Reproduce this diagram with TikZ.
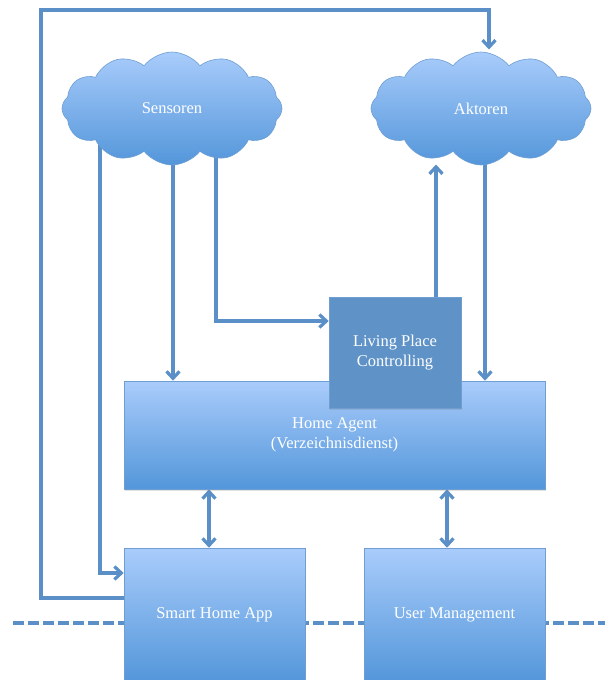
\documentclass[tikz,border=0pt]{standalone}
\usepackage{fontspec}
\setmainfont{Liberation Serif}
\usetikzlibrary{shapes.symbols,arrows.meta,shadows,backgrounds}
\definecolor{lineblue}{HTML}{5B8FC7}
\definecolor{topblue}{HTML}{A9CCFB}
\definecolor{botblue}{HTML}{5396DA}
\definecolor{darkbox}{HTML}{5F93C7}
\definecolor{edgeblue}{HTML}{6E9ED2}
\begin{document}
\begin{tikzpicture}[x=1pt,y=-1pt,
  conn/.style={draw=lineblue, line width=3.2pt},
  tip/.style={-{Straight Barb[length=7pt,width=13pt]}},
  tiptwo/.style={{Straight Barb[length=7pt,width=13pt]}-{Straight Barb[length=7pt,width=13pt]}},
  txt/.style={text=white, align=center, font=\fontsize{16.5}{19.5}\selectfont},
  shade/.style={drop shadow={opacity=0.25, shadow xshift=1pt, shadow yshift=-1.5pt}},
  box/.style={txt, shade, draw=edgeblue, line width=0.6pt, top color=topblue, bottom color=botblue, inner sep=0pt},
  darkbox/.style={txt, shade, draw=edgeblue, line width=0.6pt, fill=darkbox, inner sep=0pt},
  cloudnode/.style={txt, cloud, cloud puffs=12, cloud puff arc=105, aspect=2, draw=edgeblue, line width=0.6pt, top color=topblue, bottom color=botblue, minimum width=220pt, minimum height=113pt, inner sep=0pt},
  dashline/.style={draw=lineblue, line width=4pt, dash pattern=on 11pt off 4pt}]
\useasboundingbox (0,0) rectangle (605,680);

\node[box, minimum width=421pt, minimum height=108pt, text depth=4pt] (ha) at (334.5,435) {Home Agent\\(Verzeichnisdienst)};
\node[darkbox, minimum width=132pt, minimum height=111pt] (lpc) at (395,352.5) {Living Place\\Controlling};
\node[box, minimum width=181pt, minimum height=134pt] (sha) at (214.5,615) {Smart Home App};
\node[box, minimum width=181pt, minimum height=134pt] (um) at (454.5,615) {User Management};
\node[cloudnode] (sens) at (172,108.5) {Sensoren};
\node[cloudnode] (akt) at (481,108.5) {Aktoren};

\coordinate (dl) at (13,623);
\coordinate (dr) at (606,623);

\begin{scope}[on background layer]
\draw[dashline] (dl) -- (dr);
\draw[conn,tip] ([xshift=1pt]sens.center) -- ([xshift=1pt]sens.center |- ha.north);
\draw[conn,tip] ([xshift=-72pt]sens.center) |- ([yshift=42pt]sha.west);
\draw[conn,tip] ([xshift=44pt]sens.center) |- ([yshift=31.5pt]lpc.west);
\draw[conn,tip] ([xshift=41pt]lpc.north) -- ([xshift=-45pt,yshift=-56pt]akt.center);
\draw[conn,tip] ([xshift=4pt]akt.center) -- ([xshift=4pt]akt.center |- ha.north);
\draw[conn,tip] ([yshift=17pt]sha.west) -- (41,598) -- (41,10) -- (489,10) -- ([xshift=8pt,yshift=59pt]akt.center);
\draw[conn,tiptwo] ([xshift=-5.5pt]sha.north) -- ([xshift=-5.5pt]sha.north |- ha.south);
\draw[conn,tiptwo] ([xshift=-7.5pt]um.north) -- ([xshift=-7.5pt]um.north |- ha.south);
\end{scope}
\end{tikzpicture}
\end{document}
